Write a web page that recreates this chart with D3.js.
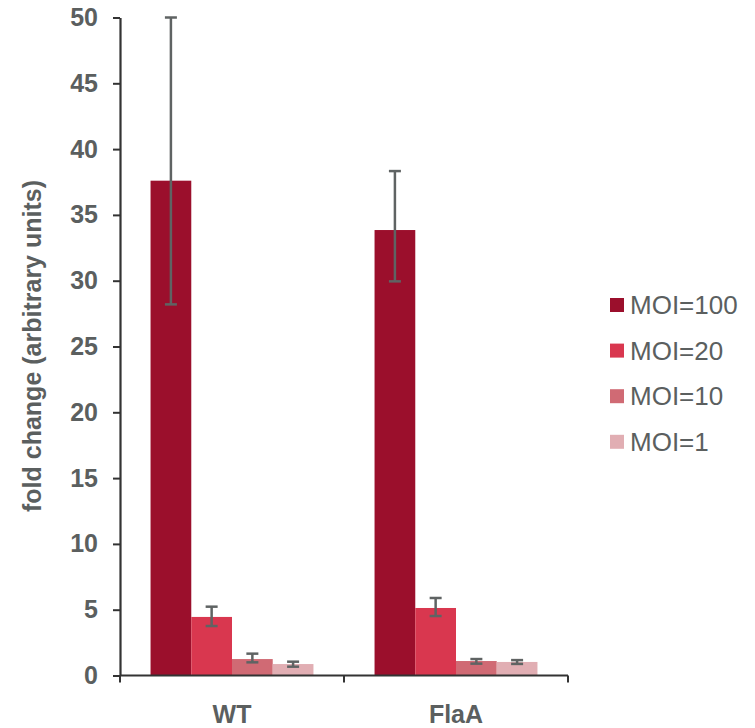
<!DOCTYPE html>
<html>
<head>
<meta charset="utf-8">
<script src="https://cdn.jsdelivr.net/npm/d3@7"></script>
<style>
  body { margin: 0; background: #fff; }
  text { font-family: "Liberation Sans", Arial, sans-serif; fill: #5b5f5f; }
</style>
</head>
<body>
<script>
var categories = ['WT', 'FlaA'];
var series = ['MOI=100', 'MOI=20', 'MOI=10', 'MOI=1'];
var colors = ['#9b0f2c', '#d9374f', '#d06a74', '#e1aeb3'];

// values per category, in series order
var wtValues = [37.6, 4.45, 1.25, 0.87];
var flaValues = [33.85, 5.13, 1.1, 1.03];
// error bars (up / down)
var wtErrUp = [12.4, 0.78, 0.41, 0.18];
var wtErrDown = [9.4, 0.69, 0.25, 0.2];
var flaErrUp = [4.48, 0.76, 0.15, 0.14];
var flaErrDown = [3.9, 0.61, 0.2, 0.15];

var yTicks = [0, 5, 10, 15, 20, 25, 30, 35, 40, 45, 50];

var width = 755, height = 728;

var svg = d3.select('body').append('svg')
  .attr('width', width).attr('height', height);

var x = d3.scaleBand().domain(categories).range([120, 568]);
var xs = d3.scaleBand().domain(series).range([0, x.bandwidth()]).paddingOuter(0.75);
var y = d3.scaleLinear().domain([0, 50]).range([675.5, 17.5]);

var rows = [
  { cat: 'WT', vals: wtValues, up: wtErrUp, down: wtErrDown },
  { cat: 'FlaA', vals: flaValues, up: flaErrUp, down: flaErrDown }
];

var data = [];
rows.forEach(function (r) {
  series.forEach(function (s, i) {
    data.push({ cat: r.cat, s: s, i: i, v: r.vals[i], hi: Math.min(50, r.vals[i] + r.up[i]), lo: r.vals[i] - r.down[i] });
  });
});

// bars
svg.append('g').selectAll('rect')
  .data(data)
  .enter()
  .append('rect')
  .attr('x', function (d) { return x(d.cat) + xs(d.s); })
  .attr('width', xs.bandwidth())
  .attr('y', function (d) { return y(d.v); })
  .attr('height', function (d) { return y(0) - y(d.v); })
  .attr('fill', function (d) { return colors[d.i]; });

// error bars
var eb = svg.append('g').attr('stroke', '#5f6363').attr('stroke-width', 2.5);
data.forEach(function (d) {
  var cx = x(d.cat) + xs(d.s) + xs.bandwidth() / 2;
  eb.append('line').attr('x1', cx).attr('x2', cx).attr('y1', y(d.hi)).attr('y2', y(d.lo));
  eb.append('line').attr('x1', cx - 6).attr('x2', cx + 6).attr('y1', y(d.hi)).attr('y2', y(d.hi));
  eb.append('line').attr('x1', cx - 6).attr('x2', cx + 6).attr('y1', y(d.lo)).attr('y2', y(d.lo));
});

// y axis
var yAxis = svg.append('g')
  .attr('transform', 'translate(120,0)')
  .call(d3.axisLeft(y).tickValues(yTicks).tickSize(7).tickSizeOuter(0).tickPadding(15));
yAxis.select('.domain').attr('stroke', '#333').attr('stroke-width', 2.2);
yAxis.selectAll('.tick line').attr('stroke', '#333').attr('stroke-width', 2);
yAxis.selectAll('.tick text')
  .attr('fill', '#5b5f5f')
  .style('font-size', '25px')
  .style('font-weight', 'bold')
  .style('font-family', '"Liberation Sans", Arial, sans-serif');

// x axis
var xAxis = svg.append('g').attr('transform', 'translate(0,675.5)');
xAxis.append('line').attr('x1', 120).attr('x2', 568).attr('stroke', '#333').attr('stroke-width', 2.2);
xAxis.selectAll('.xtick')
  .data(categories.concat(['end']))
  .enter()
  .append('line')
  .attr('x1', function (d, i) { return i < categories.length ? x(d) : x.range()[1]; })
  .attr('x2', function (d, i) { return i < categories.length ? x(d) : x.range()[1]; })
  .attr('y1', 0).attr('y2', 7)
  .attr('stroke', '#333').attr('stroke-width', 2);
xAxis.selectAll('.xlab')
  .data(categories)
  .enter()
  .append('text')
  .attr('x', function (d) { return x(d) + x.bandwidth() / 2; })
  .attr('y', 47)
  .attr('text-anchor', 'middle')
  .style('font-size', '25px')
  .style('font-weight', 'bold')
  .text(function (d) { return d; });

// y title
svg.append('text')
  .attr('transform', 'translate(41,346) rotate(-90)')
  .attr('text-anchor', 'middle')
  .style('font-size', '25px')
  .style('font-weight', 'bold')
  .text('fold change (arbitrary units)');

// legend
var leg = svg.append('g').selectAll('g')
  .data(series)
  .enter()
  .append('g')
  .attr('transform', function (d, i) { return 'translate(610,' + (305 + i * 45.6) + ')'; });
leg.append('rect')
  .attr('x', 0).attr('y', -7).attr('width', 14).attr('height', 14)
  .attr('fill', function (d, i) { return colors[i]; });
leg.append('text')
  .attr('x', 20).attr('y', 9)
  .style('font-size', '26px')
  .text(function (d) { return d; });
</script>
</body>
</html>
